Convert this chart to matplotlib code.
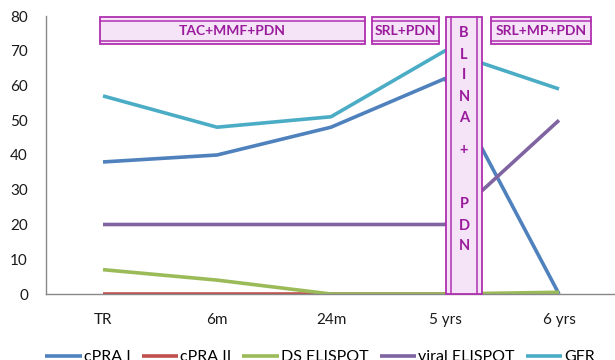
import matplotlib.pyplot as plt
from matplotlib.patches import Rectangle

plt.rcParams['font.family'] = ['Lato', 'DejaVu Sans']

timepoints = ['TR', '6m', '24m', '5 yrs', '6 yrs']
cpra_1 = [38, 40, 48, 62, 0]
cpra_2 = [0, 0, 0, 0, 0]
ds_elispot = [7, 4, 0, 0, 0.5]
viral_elispot = [20, 20, 20, 20, 50]
gfr = [57, 48, 51, 70, 59]

series = [
    ('cPRA I', cpra_1, '#4F81BD'),
    ('cPRA II', cpra_2, '#C0504D'),
    ('DS ELISPOT', ds_elispot, '#9BBB59'),
    ('viral ELISPOT', viral_elispot, '#8064A2'),
    ('GFR', gfr, '#4BACC6'),
]

edge = '#B030B0'
fill = '#F5E3F8'
txt = '#9A1C9C'

fig = plt.figure(figsize=(6.15, 3.6), dpi=100)
ax = fig.add_axes([46 / 615, 66 / 360, 570 / 615, 278 / 360])

x = range(len(timepoints))
for name, vals, col in series:
    ax.plot(x, vals, color=col, lw=2.6, label=name, solid_capstyle='butt')

ax.set_xlim(-0.5, 4.5)
ax.set_ylim(0, 80)
ax.set_yticks(range(0, 81, 10))
ax.set_xticks(list(x))
ax.set_xticklabels(timepoints)
ax.tick_params(axis='both', length=0, labelsize=11, labelcolor='#1a1a1a')
ax.tick_params(axis='y', pad=13)
ax.tick_params(axis='x', pad=14)
for s in ['top', 'right']:
    ax.spines[s].set_visible(False)
for s in ['left', 'bottom']:
    ax.spines[s].set_color('#888888')
    ax.spines[s].set_linewidth(1.0)


def therapy_box(x0, x1, y0, y1, inner, vertical=False):
    ax.add_patch(Rectangle((x0, y0), x1 - x0, y1 - y0, facecolor=fill,
                           edgecolor=edge, lw=1.3, zorder=5, clip_on=False))
    if vertical:
        for xi in inner:
            ax.plot([xi, xi], [y0, y1], color=edge, lw=1.1, zorder=6, clip_on=False)
    else:
        for yi in inner:
            ax.plot([x0, x1], [yi, yi], color=edge, lw=1.1, zorder=6, clip_on=False)


# drug regimens across the top
therapy_box(-0.026, 2.298, 72.0, 79.8, [72.9, 78.6])
ax.text(1.136, 75.8, 'TAC+MMF+PDN', ha='center', va='center', color=txt,
        fontsize=10, fontweight='bold', zorder=7)
therapy_box(2.357, 2.947, 72.0, 79.8, [72.9, 78.6])
ax.text(2.652, 75.8, 'SRL+PDN', ha='center', va='center', color=txt,
        fontsize=10, fontweight='bold', zorder=7)
therapy_box(3.404, 4.278, 72.0, 79.8, [72.9, 78.6])
ax.text(3.841, 75.8, 'SRL+MP+PDN', ha='center', va='center', color=txt,
        fontsize=10, fontweight='bold', zorder=7)

# blinatumomab column
therapy_box(3.009, 3.325, 0, 79.8, [3.053, 3.281], vertical=True)
letters = ['B', 'L', 'I', 'N', 'A', '+', 'P', 'D', 'N']
letter_y = [75.1, 68.8, 63.0, 56.7, 50.6, 41.4, 25.9, 19.6, 13.8]
for ch, yy in zip(letters, letter_y):
    ax.text(3.167, yy, ch, ha='center', va='center', color=txt,
            fontsize=10.5, fontweight='bold', zorder=7)

fig.legend(loc='center', bbox_to_anchor=(320 / 615, 3 / 360), ncol=5,
           frameon=False, fontsize=11.5, handlelength=2.3, handletextpad=0.1,
           columnspacing=0.7)

fig.savefig('out.png', dpi=100)
